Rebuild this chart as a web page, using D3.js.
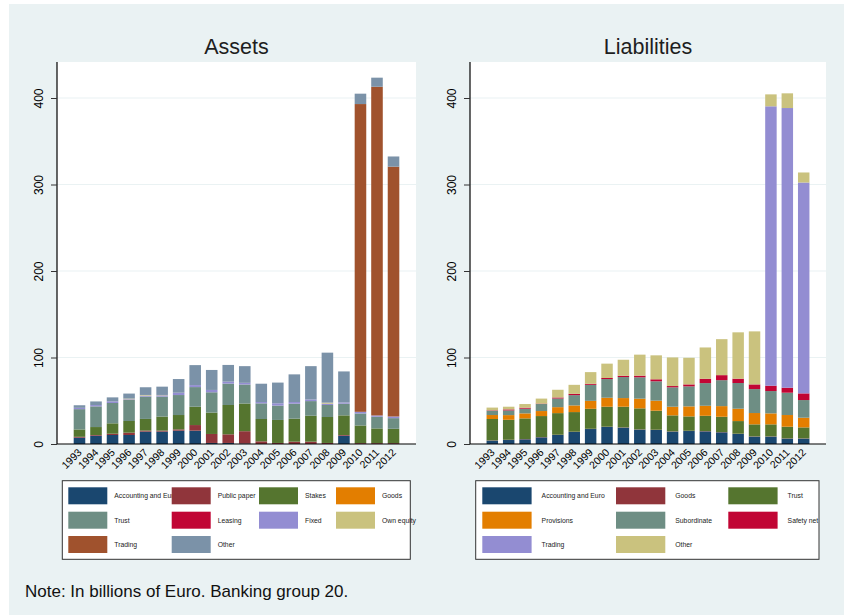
<!DOCTYPE html>
<html><head><meta charset="utf-8">
<script src="https://cdn.jsdelivr.net/npm/d3@7"></script>
<style>body{margin:0;background:#fff}svg{display:block;font-family:"Liberation Sans",Arial,sans-serif}</style>
</head><body><svg id="c" width="844" height="615"></svg>
<script>
const years = ["1993","1994","1995","1996","1997","1998","1999","2000","2001","2002","2003","2004","2005","2006","2007","2008","2009","2010","2011","2012"];
const yTicks = [0,100,200,300,400];

// Assets series (bottom to top)
const assetNames = ["Accounting and Euro","Public paper","Stakes","Goods","Trust","Leasing","Fixed","Own equity","Trading","Other"];
const aAccounting = [7.3,9.6,10.4,10.4,14.3,14.3,15.4,15.4,1.2,1.2,0.5,0,0,0,0,0,9.6,0,0,0];
const aPublicPaper = [1,0.8,1.5,2.7,1.2,1.2,1.5,6.5,10.4,10,14.3,3.1,1.2,2.7,2.7,1.2,0.8,1,1,1];
const aStakes = [8.5,9.2,12,13.5,13.5,16.2,16.6,21.2,24.7,33.9,32,25.8,26.6,26.6,30,30,22.7,20.4,17,16.6];
const aGoods = [0,0,0,0,0,0,0,0,0,0,0,0,0,0,0,0,0,0,0,0];
const aTrust = [23.5,23.9,23.5,24.3,25.8,23.1,23.1,22.7,23.5,24.7,22,18.1,16.6,17.3,16.9,13.9,13.5,13.9,13.5,12.3];
const aLeasing = [0,0,0,0,0,0,0,0,0,0,0,0,0,0,0,0,0,0,0,0];
const aFixed = [1.5,1.5,1.9,0.8,1.2,1.5,2.7,2.3,2.7,2.3,1.9,1.5,2.7,1.9,1.9,1.5,1.5,1.9,1.5,1.9];
const aOwnEquity = [0,0,0,0.8,0.7,0.4,0,0,0,0,0,0,0,0,0,1.2,0,0,0,0];
const aTrading = [0,0,0,0,0,0,0,0,0,0,0,0,0,0,0,0,0,355.8,380,288.8];
const aOther = [3,4.2,4.6,5.8,8.9,9.6,15.8,23.1,23.1,19.3,19.3,21.2,23.9,32,38.5,57.8,35.8,12,10.5,11.8];
const assetColors = ["#1a476f","#90353b","#55752f","#e37e00","#6e8e84","#c10534","#938dd2","#cac27e","#a0522d","#7b92a8"];

// Liabilities series (bottom to top)
const liabNames = ["Accounting and Euro","Goods","Trust","Provisions","Subordinate","Safety net","Trading","Other"];
const lAccounting = [3.9,4.6,5.4,7.7,10.4,13.9,17.3,19.7,18.9,16.6,16.2,14.3,15,14.6,13.5,11.6,8.5,8.5,6.2,6.2];
const lGoods = [0.3,0.3,0.3,0.3,0.3,0.3,0.3,0.3,0.3,0.3,0.3,0.3,0.3,0.3,0.3,0.3,0.3,0.3,0.3,0.3];
const lTrust = [24.7,23.1,23.9,24.3,25,22.7,23.1,23.1,23.9,24.3,22,18.5,16.6,17.7,17.7,14.6,13.9,13.9,13.5,12.7];
const lProvisions = [4.6,5.4,5.8,5.8,6.9,7.7,9.2,10.4,10,11.2,11.6,10,11.6,11.6,12.3,14.3,13.1,12.7,13.5,11.2];
const lSubordinate = [5,5.4,5.4,8.1,10,11.9,18.5,21.6,24.3,24.7,22.4,22.4,23.1,26.2,30,29.7,27.7,25.8,25.8,20.4];
const lSafetyNet = [0.5,1.2,1.2,0.5,1.2,1.5,1.2,1.2,1.5,1.9,2.3,1.5,2.3,5,5.8,5,5.4,6.2,5.8,7.7];
const lTrading = [0,0,0,0,0,0,0,0,0,0,0,0,0,0,0,0,0,323,323.3,243.8];
const lOther = [3.1,3.1,4.2,5.8,8.9,10.4,13.5,16.6,18.5,24.3,27.7,33.1,30.8,36.2,41.6,53.6,61.3,13.8,17,11.6];
const liabColors = ["#1a476f","#90353b","#55752f","#e37e00","#6e8e84","#c10534","#938dd2","#cac27e"];

const assetSeries = [aAccounting,aPublicPaper,aStakes,aGoods,aTrust,aLeasing,aFixed,aOwnEquity,aTrading,aOther];
const liabSeries = [lAccounting,lGoods,lTrust,lProvisions,lSubordinate,lSafetyNet,lTrading,lOther];

const svg = d3.select("#c");
svg.append("rect").attr("x",9).attr("y",4).attr("width",835).attr("height",611).attr("fill","#eaf2f3");

function rows(names, series){
  return years.map((y,i)=>{const o={year:y}; names.forEach((n,k)=>o[n]=series[k][i]); return o;});
}

function panel(cfg){
  const g = svg.append("g");
  g.append("rect").attr("x",cfg.x0).attr("y",62).attr("width",cfg.x1-cfg.x0).attr("height",444-62).attr("fill","#fff");
  const x = d3.scaleBand().domain(years).range([cfg.x0,cfg.x1]).paddingInner(0.3).paddingOuter(1.01);
  const y = d3.scaleLinear().domain([0,400]).range([444,98]);
  g.selectAll(".grid").data(yTicks.slice(1)).join("line")
    .attr("x1",cfg.x0).attr("x2",cfg.x1).attr("y1",d=>y(d)).attr("y2",d=>y(d))
    .attr("stroke","#eaf2f3").attr("stroke-width",1.2);
  const data = rows(cfg.names, cfg.series);
  const stack = d3.stack().keys(cfg.names)(data);
  stack.forEach((s,k)=>{
    g.append("g").selectAll("rect").data(s).join("rect")
      .attr("x",d=>x(d.data.year)).attr("width",x.bandwidth())
      .attr("y",d=>y(d[1])).attr("height",d=>Math.max(0,y(d[0])-y(d[1])))
      .attr("fill",cfg.colors[k]);
  });
  const ya = g.append("g").attr("transform",`translate(${cfg.x0},0)`)
    .call(d3.axisLeft(y).tickValues(yTicks).tickSize(6).tickFormat(d3.format("d")));
  ya.select(".domain").attr("d",`M0,444V62`).attr("stroke","#000").attr("stroke-width",1.2);
  ya.selectAll(".tick line").attr("stroke","#333");
  ya.selectAll(".tick text").attr("font-size",12).attr("fill","#000")
    .attr("x",null).attr("y",null).attr("dy","0")
    .attr("transform","translate(-14,0) rotate(-90)").attr("text-anchor","middle");
  const xa = g.append("g").attr("transform","translate(0,444)")
    .call(d3.axisBottom(x).tickSize(0));
  xa.select(".domain").attr("d",`M${cfg.x0},0H${cfg.x1}`).attr("stroke","#000").attr("stroke-width",1.2);
  xa.selectAll(".tick text").attr("font-size",10.5).attr("fill","#000")
    .attr("text-anchor","end").attr("y",null).attr("dy",null)
    .attr("transform","translate(3,9) rotate(-45)");
  g.append("text").attr("x",(cfg.x0+cfg.x1)/2).attr("y",54).attr("text-anchor","middle")
    .attr("font-size",21.5).attr("fill","#1e1e1e").text(cfg.title);
  const L = cfg.legend;
  g.append("rect").attr("x",L.x0).attr("y",480.7).attr("width",L.x1-L.x0).attr("height",78.6)
    .attr("fill","#fff").attr("stroke","#333").attr("stroke-width",1);
  const rowY = [487.3,511.7,536];
  cfg.names.forEach((n,k)=>{
    const c = k % L.cols.length, r = Math.floor(k / L.cols.length);
    g.append("rect").attr("x",L.cols[c]).attr("y",rowY[r]).attr("width",L.sw).attr("height",17)
      .attr("fill",cfg.colors[k]);
    g.append("text").attr("x",L.cols[c]+L.lo).attr("y",rowY[r]+8.5).attr("dy","0.35em")
      .attr("font-size",6.8).attr("fill","#222").text(n);
  });
}

panel({x0:57,x1:416,title:"Assets",names:assetNames,series:assetSeries,colors:assetColors,
  legend:{x0:62.3,x1:410.3,cols:[68.3,171.7,259,336],sw:39,lo:46}});
panel({x0:470,x1:826,title:"Liabilities",names:liabNames,series:liabSeries,colors:liabColors,
  legend:{x0:475.7,x1:819,cols:[482.3,616,728.3],sw:49.3,lo:59.3}});

svg.append("text").attr("x",25).attr("y",597).attr("font-size",17).attr("fill","#111")
  .text("Note: In billions of Euro. Banking group 20.");
</script></body></html>
